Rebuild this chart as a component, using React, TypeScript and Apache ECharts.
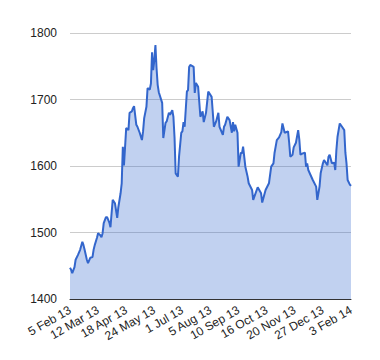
import React, { useEffect, useRef } from "react";
import * as echarts from "echarts";

// Trading-day index (0 = 5 Feb 13, 250 = 3 Feb 14) and index value
const days = [
  0, 1, 2, 4, 5, 7, 9, 11, 12, 13, 15, 16, 18, 20, 21, 22, 24, 25, 27, 28, 29,
  30, 32, 33, 35, 36, 37, 38, 40, 42, 43, 45, 46, 47, 48, 50, 52, 53, 55, 56,
  57, 59, 60, 62, 64, 65, 66, 68, 69, 71, 72, 73, 74, 75, 76, 77, 78, 79, 82,
  83, 85, 86, 88, 89, 91, 92, 93, 94, 96, 97, 99, 100, 101, 102, 104, 105, 106,
  107, 110, 111, 112, 114, 116, 118, 119, 121, 123, 126, 128, 130, 132, 133,
  136, 137, 138, 140, 142, 144, 145, 146, 147, 149, 150, 152, 153, 154, 156,
  158, 159, 162, 163, 167, 170, 171, 174, 177, 179, 181, 182, 184, 186, 188,
  189, 191, 194, 195, 196, 198, 199, 201, 203, 204, 205, 207, 209, 210, 211,
  212, 216, 219, 220, 222, 223, 225, 226, 229, 230, 231, 233, 235, 236, 237,
  238, 240, 242, 244, 245, 246, 247, 249, 250,
];
const values = [
  1447, 1444, 1439, 1448, 1459, 1466, 1474, 1486, 1481, 1474, 1459, 1454, 1462,
  1463, 1474, 1481, 1492, 1499, 1496, 1493, 1499, 1514, 1523, 1523, 1515, 1508,
  1529, 1549, 1544, 1522, 1538, 1559, 1574, 1629, 1601, 1657, 1654, 1680, 1682,
  1687, 1690, 1662, 1659, 1650, 1639, 1652, 1672, 1689, 1717, 1715, 1724, 1771,
  1744, 1759, 1782, 1747, 1722, 1711, 1695, 1642, 1665, 1667, 1680, 1677, 1684,
  1674, 1643, 1589, 1584, 1614, 1650, 1652, 1666, 1659, 1712, 1714, 1749, 1752,
  1749, 1710, 1725, 1719, 1674, 1682, 1666, 1680, 1712, 1704, 1659, 1667, 1680,
  1659, 1647, 1659, 1662, 1674, 1669, 1650, 1666, 1652, 1662, 1650, 1599, 1620,
  1619, 1629, 1599, 1584, 1574, 1564, 1549, 1568, 1559, 1545, 1564, 1574, 1599,
  1604, 1620, 1639, 1643, 1651, 1664, 1650, 1652, 1635, 1614, 1617, 1628, 1635,
  1654, 1640, 1617, 1619, 1620, 1599, 1604, 1594, 1579, 1569, 1549, 1569, 1589,
  1604, 1609, 1601, 1614, 1617, 1604, 1605, 1594, 1624, 1644, 1664, 1659, 1654,
  1620, 1604, 1579, 1572, 1570,
];
const tickLabels = [
  "5 Feb 13", "12 Mar 13", "18 Apr 13", "24 May 13", "1 Jul 13", "5 Aug 13",
  "10 Sep 13", "16 Oct 13", "20 Nov 13", "27 Dec 13", "3 Feb 14",
];
const yTicks = [1400, 1500, 1600, 1700, 1800];

export default function App() {
  const ref = useRef<HTMLDivElement>(null);
  useEffect(() => {
    if (!ref.current) return;
    const chart = echarts.init(ref.current, null, { renderer: "svg" });
    const font = "'Liberation Sans', Arial, sans-serif";
    chart.setOption({
      animation: false,
      grid: { left: 70, right: 29, top: 33, bottom: 61, containLabel: false },
      xAxis: {
        type: "value",
        min: 0,
        max: 250,
        interval: 25,
        axisLine: { show: true, lineStyle: { color: "#333", width: 1 } },
        axisTick: { show: false },
        splitLine: { show: false },
        axisLabel: {
          rotate: 30,
          margin: 10,
          color: "#222",
          fontSize: 12,
          fontFamily: font,
          formatter: (v: number) => tickLabels[Math.round(v / 25)] ?? "",
        },
      },
      yAxis: {
        type: "value",
        min: yTicks[0],
        max: yTicks[yTicks.length - 1],
        interval: 100,
        axisLine: { show: false },
        axisTick: { show: false },
        splitLine: { lineStyle: { color: "#ccc", width: 1 } },
        axisLabel: {
          margin: 13,
          color: "#222",
          fontSize: 12,
          fontFamily: font,
          formatter: (v: number) => String(v),
        },
      },
      series: [
        {
          type: "line",
          data: days.map((d, i) => [d, values[i]]),
          showSymbol: false,
          symbol: "none",
          lineStyle: { color: "#3366cc", width: 2 },
          areaStyle: { color: "#3366cc", opacity: 0.3 },
          z: 1,
        },
      ],
    });
    return () => chart.dispose();
  }, []);
  return <div ref={ref} style={{ width: 380, height: 360, margin: -8 }} />;
}
